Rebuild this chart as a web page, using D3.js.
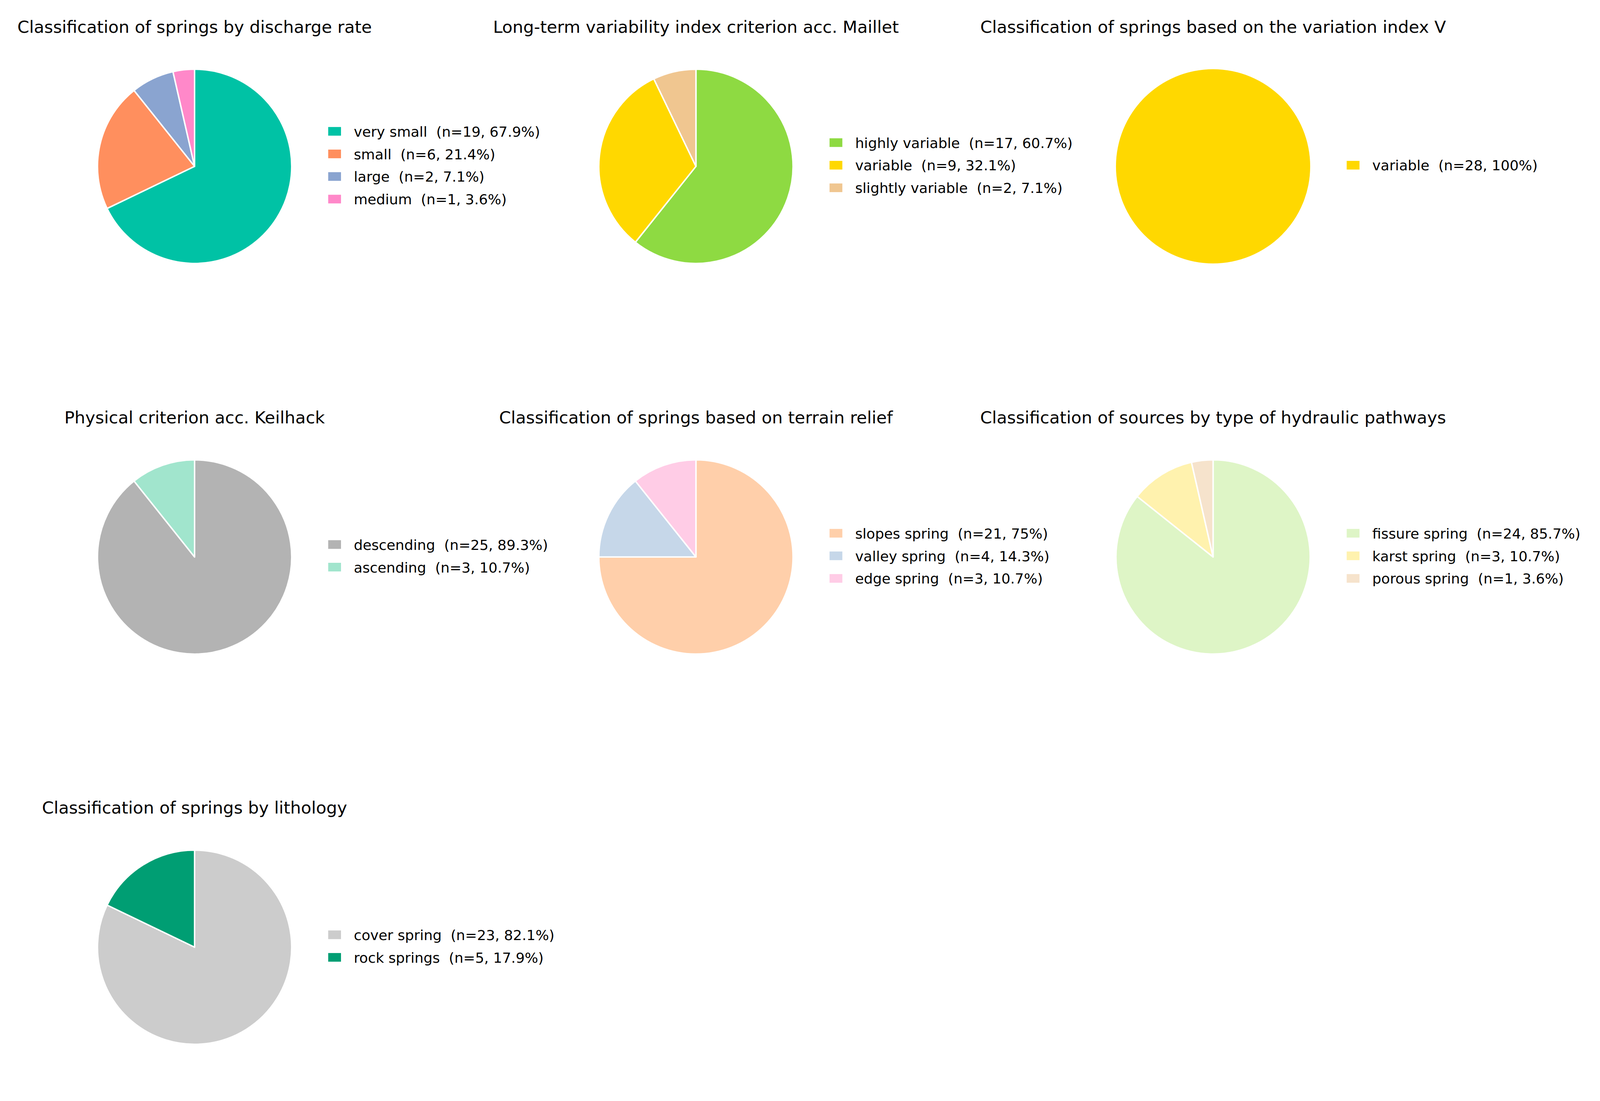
<!DOCTYPE html>
<html>
<head>
<meta charset="utf-8">
<script src="https://cdn.jsdelivr.net/npm/d3@7"></script>
<style>
  html, body { margin: 0; padding: 0; background: #fff; overflow: hidden; }
  svg { display: block; font-family: "DejaVu Sans", sans-serif; }
</style>
</head>
<body>
<script>
// chart titles, one per panel
const titles = [
    "Classification of springs by discharge rate",
    "Long-term variability index criterion acc. Maillet",
    "Classification of springs based on the variation index V",
    "Physical criterion acc. Keilhack",
    "Classification of springs based on terrain relief",
    "Classification of sources by type of hydraulic pathways",
    "Classification of springs by lithology"
];

// categories and counts per panel
const dischargeCats = ["very small", "small", "large", "medium"];
const dischargeCounts = [19, 6, 2, 1];
const mailletCats = ["highly variable", "variable", "slightly variable"];
const mailletCounts = [17, 9, 2];
const variationCats = ["variable"];
const variationCounts = [28];
const keilhackCats = ["descending", "ascending"];
const keilhackCounts = [25, 3];
const reliefCats = ["slopes spring", "valley spring", "edge spring"];
const reliefCounts = [21, 4, 3];
const pathwayCats = ["fissure spring", "karst spring", "porous spring"];
const pathwayCounts = [24, 3, 1];
const lithologyCats = ["cover spring", "rock springs"];
const lithologyCounts = [23, 5];

// slice colours per panel
const dischargeColors = ["#00c2a5", "#ff8f5e", "#8aa4d0", "#ff88c9"];
const mailletColors = ["#8eda42", "#ffd800", "#f0c690"];
const variationColors = ["#ffd800"];
const keilhackColors = ["#b3b3b3", "#a1e5cd"];
const reliefColors = ["#ffcfaa", "#c6d7e9", "#ffcce6"];
const pathwayColors = ["#def5c6", "#fff2ae", "#f6e3cc"];
const lithologyColors = ["#cccccc", "#009e73"];

const panels = [
    { cats: dischargeCats, counts: dischargeCounts, colors: dischargeColors },
    { cats: mailletCats, counts: mailletCounts, colors: mailletColors },
    { cats: variationCats, counts: variationCounts, colors: variationColors },
    { cats: keilhackCats, counts: keilhackCounts, colors: keilhackColors },
    { cats: reliefCats, counts: reliefCounts, colors: reliefColors },
    { cats: pathwayCats, counts: pathwayCounts, colors: pathwayColors },
    { cats: lithologyCats, counts: lithologyCounts, colors: lithologyColors }
];

const width = 4251, height = 2819;
const colX = [517, 1849, 3223];
const rowY = [442, 1480, 2517];
const radius = 258;
const titleFont = 45, legendFont = 37.6;
const rowStep = 60;

// scale the drawing to whatever viewport the page gets
const svg = d3.select("body").append("svg")
    .attr("viewBox", `0 0 ${width} ${height}`)
    .attr("preserveAspectRatio", "xMinYMin meet")
    .style("width", "100vw")
    .style("height", "100vh");

const pie = d3.pie().sort(null).value(d => d);
const arc = d3.arc().innerRadius(0).outerRadius(radius);

const pct = (n, total) => Math.round(n / total * 1000) / 10;

panels.forEach((p, i) => {
    const cx = colX[i % 3], cy = rowY[Math.floor(i / 3)];
    const total = d3.sum(p.counts);
    const color = d3.scaleOrdinal().domain(p.cats).range(p.colors);

    const g = svg.append("g").attr("transform", `translate(${cx},${cy})`);

    g.append("text")
        .attr("x", 0)
        .attr("y", -355)
        .attr("text-anchor", "middle")
        .attr("font-size", titleFont)
        .attr("fill", "#000")
        .text(titles[i]);

    const arcs = pie(p.counts);
    g.selectAll("path.slice")
        .data(arcs)
        .enter().append("path")
        .attr("class", "slice")
        .attr("d", arc)
        .attr("fill", (d, j) => color(p.cats[j]))
        .attr("stroke", p.counts.length > 1 ? "#fff" : "none")
        .attr("stroke-width", 3.8)
        .attr("stroke-linejoin", "round");

    // legend, vertically centred on the pie
    const legendX = 355;
    const y0 = -3 - (p.cats.length - 1) * rowStep / 2;
    const legend = g.append("g").attr("transform", `translate(${legendX},${y0})`);
    const items = legend.selectAll("g.item")
        .data(p.cats)
        .enter().append("g")
        .attr("class", "item")
        .attr("transform", (d, j) => `translate(0,${j * rowStep})`);

    items.append("rect")
        .attr("x", 0)
        .attr("y", -11.5)
        .attr("width", 34)
        .attr("height", 23)
        .attr("fill", d => color(d));

    items.append("text")
        .attr("x", 68)
        .attr("y", 14)
        .attr("font-size", legendFont)
        .attr("fill", "#000")
        .attr("xml:space", "preserve")
        .style("white-space", "pre")
        .text((d, j) => `${d}  (n=${p.counts[j]}, ${pct(p.counts[j], total)}%)`);
});
</script>
</body>
</html>
